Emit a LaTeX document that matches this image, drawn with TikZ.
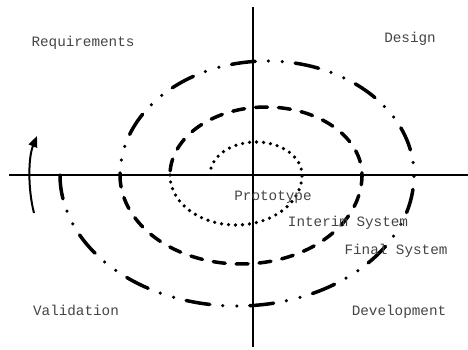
\documentclass[tikz,border=0pt]{standalone}
\usepackage{fontspec}
\setmonofont{Liberation Mono}
\usetikzlibrary{arrows.meta}
\definecolor{txtgray}{HTML}{444444}
\tikzset{
  axisline/.style={line width=1.8pt, black},
  spiral/.style={line width=3.5pt, black, line cap=round},
  dashdotdot/.style={spiral, dash pattern=on 24pt off 13pt on 0pt off 14pt on 0pt off 13pt},
  dashline/.style={spiral, dash pattern=on 12pt off 11pt},
  dotline/.style={spiral, line width=3.6pt, dash pattern=on 0pt off 7pt},
  lbl/.style={anchor=base, inner sep=0pt, text=txtgray, font=\ttfamily\fontsize{14.3}{16}\selectfont}
}
\begin{document}
\begin{tikzpicture}[x=1pt,y=-1pt]
\useasboundingbox (0,0) rectangle (468,349);
% axes
\coordinate (hl) at (9,175);
\coordinate (hr) at (468,175);
\coordinate (vt) at (253,7);
\coordinate (vb) at (253,347);
\draw[axisline] (hl) -- (hr);
\draw[axisline] (vt) -- (vb);
% spiral: outer loop (dash-dot-dot)
\draw[dashdotdot] plot[domain=180:0, samples=120, smooth] ({237+177*cos(\x)},{175+131*sin(\x)})
  -- plot[domain=0:-180, samples=120, smooth] ({267+147*cos(\x)},{175+114*sin(\x)});
% middle loop (dashed)
\draw[dashline] plot[domain=180:0, samples=100, smooth] ({241+121*cos(\x)},{175+89*sin(\x)})
  -- plot[domain=0:-180, samples=100, smooth] ({266+96*cos(\x)},{175+68*sin(\x)});
% inner loop (dotted)
\draw[dotline] plot[domain=180:0, samples=80, smooth] ({236+66*cos(\x)},{175+50*sin(\x)})
  -- plot[domain=0:-180, samples=80, smooth] ({256+46*cos(\x)},{175+33*sin(\x)});
% arrow at left
\coordinate (as) at (34,213);
\coordinate (ae) at (37,136);
\draw[line width=2pt, -{Triangle[length=11pt,width=9pt]}] (as) .. controls (28,190) and (28,158) .. (ae);
% labels
\node[lbl] (req) at (83,46.5) {Requirements};
\node[lbl] (des) at (410,42.5) {Design};
\node[lbl] (val) at (76,315.5) {Validation};
\node[lbl] (dev) at (399,315.5) {Development};
\node[lbl] (pro) at (273,200) {Prototype};
\node[lbl] (int) at (348,226.5) {Interim System};
\node[lbl] (fin) at (396,254.5) {Final System};
\end{tikzpicture}
\end{document}
